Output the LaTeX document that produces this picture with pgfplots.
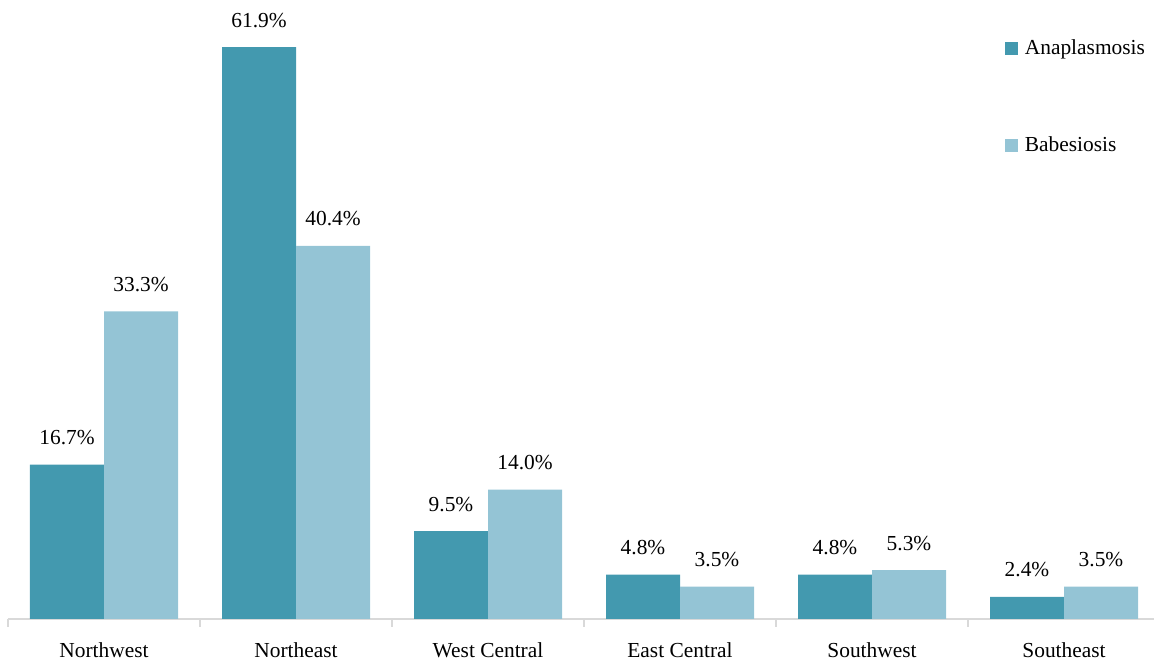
\documentclass[border=0pt]{standalone}
\usepackage{fontspec}
\setmainfont{Liberation Serif}
\usepackage{pgfplots}
\pgfplotsset{compat=1.18}
\definecolor{anapl}{HTML}{4399AF}
\definecolor{babes}{HTML}{94C4D5}
\definecolor{axisgray}{HTML}{D9D9D9}
\begin{document}
\fontsize{10.7}{13}\selectfont
\begin{tikzpicture}
\begin{axis}[
  scale only axis, width=576pt, height=309.5pt,
  xmin=-0.5, xmax=5.5, ymin=0, ymax=67,
  ybar=0pt, bar width=37pt,
  axis x line*=bottom, axis y line=none, ytick=\empty,
  x axis line style={axisgray, line width=0.75pt, -},
  xtick={0,...,5},
  xticklabels={Northwest,Northeast,West Central,East Central,Southwest,Southeast},
  major x tick style={draw=none},
  minor xtick={-0.5,0.5,...,5.5},
  minor x tick style={axisgray, line width=0.75pt},
  minor tick length=4pt, xtick align=outside,
  xticklabel style={anchor=base, yshift=-15pt},
  /pgf/number format/assume math mode=true,
  nodes near coords={\pgfmathprintnumber[fixed,fixed zerofill,precision=1]{\pgfplotspointmeta}\%},
  every node near coord/.append style={anchor=base, yshift=10pt, text=black},
  legend style={draw=none, fill=none, at={(axis cs:4.69,63.2)}, anchor=north west,
    inner sep=0pt, row sep=35.5pt},
  legend image code/.code={\fill[#1] (0pt,-3.25pt) rectangle (6.5pt,3.25pt); \path (8pt,0pt);},
  legend cell align=left,
]
\addplot[fill=anapl, draw=none] coordinates {(0,16.7) (1,61.9) (2,9.5) (3,4.8) (4,4.8) (5,2.4)};
\addplot[fill=babes, draw=none] coordinates {(0,33.3) (1,40.4) (2,14.0) (3,3.5) (4,5.3) (5,3.5)};
\legend{Anaplasmosis, Babesiosis}
\end{axis}
\pgfresetboundingbox
\path[use as bounding box] ([xshift=-4pt,yshift=-21.5pt]current axis.south west) rectangle ([xshift=-3pt]current axis.north east);
\end{tikzpicture}
\end{document}
